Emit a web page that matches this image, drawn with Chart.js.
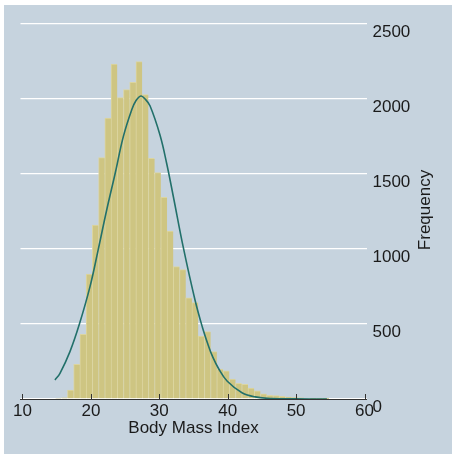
<!DOCTYPE html>
<html>
<head>
<meta charset="utf-8">
<script src="https://cdn.jsdelivr.net/npm/chart.js@4"></script>
<style>
  body { margin: 0; background: #fff; }
  canvas { display: block; }
</style>
</head>
<body>
<canvas id="bmiChart" width="452" height="455"></canvas>
<script>
// ==================== DATA ====================
const binMid = [15.21, 16.12, 17.03, 17.94, 18.85, 19.76, 20.67, 21.58, 22.49, 23.40, 24.31, 25.22, 26.13, 27.04, 27.95,
                28.86, 29.77, 30.68, 31.59, 32.50, 33.41, 34.32, 35.23, 36.14, 37.05, 37.96, 38.87, 39.78, 40.69, 41.60,
                42.51, 43.42, 44.33, 45.24, 46.15, 47.06, 47.97, 48.88, 49.79, 50.70, 51.61, 52.52, 53.43, 54.34];
const binCount = [5, 8, 60, 231, 431, 833, 1160, 1609, 1873, 2233, 2009, 2062, 2111, 2249, 2029,
                  1604, 1509, 1345, 1120, 882, 862, 674, 642, 420, 449, 316, 200, 187, 133, 104,
                  98, 72, 55, 35, 25, 22, 17, 13, 10, 7, 5, 3, 2, 2];

// normal curve
const curveX = [14.75, 15.48, 16.94, 18.31, 19.87, 21.08, 22.31, 23.52, 24.74, 25.96, 26.6, 27.32, 27.92, 28.64, 30.1,
                31.08, 32.05, 33.5, 35.22, 36.29, 37.17, 37.7, 38.7, 39.94, 42.09, 44.04, 46.5, 50, 54.5];
const curveY = [127, 171, 316, 498, 749, 998, 1260, 1498, 1749, 1927, 1990, 2020, 2000, 1955, 1760,
                1570, 1350, 1012, 660, 480, 356, 292, 200, 118, 42, 14, 3, 1, 0];

const xTicks = [10, 20, 30, 40, 50, 60];
const yTicks = [0, 500, 1000, 1500, 2000, 2500];

const FONT = "'Liberation Sans', Arial, Helvetica, sans-serif";
const TEXT = '#1a1a1a';

// ==================== PLUGINS ====================
const backdrop = {
    id: 'backdrop',
    beforeDraw(chart) {
        const c = chart.ctx;
        c.save();
        c.fillStyle = '#ffffff';
        c.fillRect(0, 0, chart.width, chart.height);
        c.fillStyle = '#c6d3de';
        c.fillRect(4, 5, chart.width - 4, chart.height - 6);
        c.restore();
    }
};

// x ticks point up into the plot, y title reads bottom to top
const extras = {
    id: 'extras',
    afterDraw(chart) {
        const c = chart.ctx;
        const x = chart.scales.x;
        const bottom = chart.chartArea.bottom;
        c.save();
        c.strokeStyle = '#333';
        c.lineWidth = 1;
        xTicks.forEach(v => {
            const px = Math.round(x.getPixelForValue(v)) + 0.5;
            c.beginPath();
            c.moveTo(px, bottom);
            c.lineTo(px, bottom - 5);
            c.stroke();
        });
        c.translate(425, 210);
        c.rotate(-Math.PI / 2);
        c.fillStyle = TEXT;
        c.font = '17px ' + FONT;
        c.textAlign = 'center';
        c.textBaseline = 'middle';
        c.fillText('Frequency', 0, 0);
        c.restore();
    }
};

// ==================== CHART ====================
new Chart(document.getElementById('bmiChart'), {
    type: 'bar',
    data: {
        datasets: [
            {
                type: 'line',
                data: curveX.map((v, i) => ({ x: v, y: curveY[i] })),
                borderColor: '#22706a',
                borderWidth: 1.6,
                pointRadius: 0,
                fill: false,
                tension: 0.4,
                order: 0
            },
            {
                data: binMid.map((v, i) => ({ x: v, y: binCount[i] })),
                backgroundColor: '#cec582',
                borderColor: '#dcd5a0',
                borderWidth: { left: 1, top: 1, right: 0, bottom: 0 },
                borderSkipped: false,
                barPercentage: 1,
                categoryPercentage: 1,
                order: 1
            }
        ]
    },
    options: {
        responsive: false,
        animation: false,
        devicePixelRatio: 1,
        layout: { padding: { left: 20.5, top: 24, right: 0, bottom: 0 } },
        plugins: { legend: { display: false }, tooltip: { enabled: false } },
        scales: {
            x: {
                type: 'linear',
                min: 9.71,
                max: 60.29,
                offset: false,
                afterBuildTicks: s => { s.ticks = xTicks.map(v => ({ value: v })); },
                afterFit: s => { s.height = 56; },
                grid: { display: false, offset: false, drawTicks: false },
                border: { display: true, color: '#333', width: 1 },
                ticks: { color: TEXT, font: { size: 17, family: FONT }, padding: 2, maxRotation: 0,
                         callback: v => String(v) },
                title: {
                    display: true,
                    text: 'Body Mass Index',
                    color: TEXT,
                    font: { size: 17, family: FONT },
                    padding: { top: 0, bottom: 16 }
                }
            },
            y: {
                position: 'right',
                min: 0,
                max: 2500,
                afterBuildTicks: s => { s.ticks = yTicks.map(v => ({ value: v })); },
                afterFit: s => { s.width = 85.5; },
                grid: { color: '#ffffff', lineWidth: 1.3, drawTicks: false },
                border: { display: false },
                ticks: { color: TEXT, font: { size: 17, family: FONT }, padding: 6, align: 'start',
                         callback: v => String(v) }
            }
        }
    },
    plugins: [backdrop, extras]
});
</script>
</body>
</html>
